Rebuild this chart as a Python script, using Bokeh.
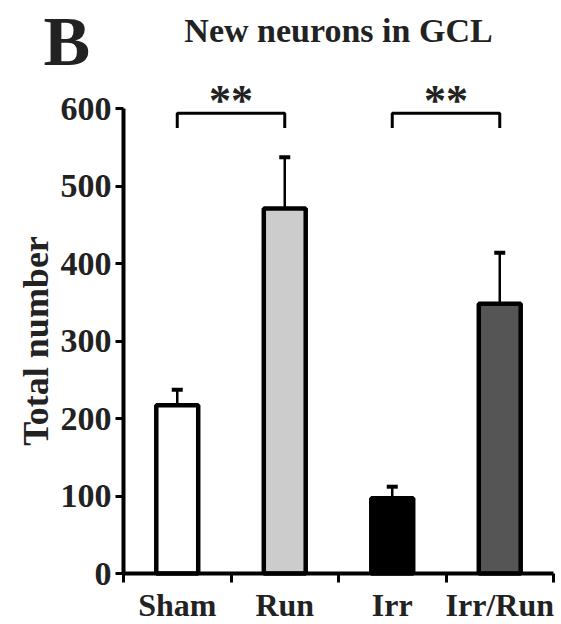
import math
from bokeh.plotting import figure
from bokeh.models import (Range1d, FixedTicker, Whisker, TeeHead,
                          ColumnDataSource)
from bokeh.core.properties import value
from bokeh.embed import file_html
from bokeh.resources import INLINE

# ---- data ----
categories = ["Sham", "Run", "Irr", "Irr/Run"]
means = [217, 471, 97, 348]
sem = [20, 66, 15, 66]
colors = ["#ffffff", "#cccccc", "#000000", "#555555"]
sig_pairs = [(0, 1), (2, 3)]
sig_labels = ["**", "**"]
bracket_top = 594
bracket_leg = 575
y_ticks = [0, 100, 200, 300, 400, 500, 600]
title_text = "New neurons in GCL"
panel_letter = "B"
y_label = "Total number"

FONT = "Liberation Serif"
W, H = 561, 624
AX_LEFT_PX, AX_BOTTOM_PX = 123, 573
PX_PER_X, PX_PER_Y = 107.5, 0.775

x0 = -AX_LEFT_PX / PX_PER_X
x1 = x0 + W / PX_PER_X
y1 = AX_BOTTOM_PX / PX_PER_Y
y0 = y1 - H / PX_PER_Y


def dx(px):
    return x0 + px / PX_PER_X


def dy(py):
    return y1 - py / PX_PER_Y


xc = [i + 0.5 for i in range(len(categories))]
upper = [m + s for m, s in zip(means, sem)]

p = figure(width=W, height=H, output_backend="svg", toolbar_location=None,
           x_range=Range1d(x0, x1), y_range=Range1d(y0, y1),
           min_border=0)
p.outline_line_color = None
p.xgrid.visible = False
p.ygrid.visible = False
p.background_fill_color = "white"
p.border_fill_color = "white"

src = ColumnDataSource(dict(x=xc, top=means, upper=upper, color=colors))
p.vbar(x="x", top="top", width=0.39, bottom=0, source=src,
       fill_color="color", line_color="black", line_width=4.5)

w = Whisker(source=src, base="x", upper="upper", lower="top",
            line_color="black", line_width=2.5,
            upper_head=TeeHead(size=11, line_width=4, line_color="black"),
            lower_head=None, level="overlay")
p.add_layout(w)

# significance brackets
bx, by, sx = [], [], []
for (a, b) in sig_pairs:
    bx.append([xc[a], xc[a], xc[b], xc[b]])
    by.append([bracket_leg, bracket_top, bracket_top, bracket_leg])
    sx.append((xc[a] + xc[b]) / 2)
p.multi_line(bx, by, line_color="black", line_width=3)
p.text(x=sx, y=[bracket_top] * len(sx), text=sig_labels, text_align="center",
       text_baseline="middle", y_offset=-13, text_font=value(FONT),
       text_font_style="bold", text_font_size="44px", text_color="#222222")

# title, panel letter, y label
p.text(x=[len(categories) / 2], y=[dy(30)], text=[title_text],
       text_align="center", text_baseline="middle",
       text_font=value(FONT), text_font_style="bold",
       text_font_size="34px", text_color="#222222")
p.text(x=[dx(43)], y=[dy(41)], text=[panel_letter],
       text_align="left", text_baseline="middle",
       text_font=value(FONT), text_font_style="bold",
       text_font_size="70px", text_color="#222222")
p.text(x=[dx(35)], y=[(y_ticks[0] + y_ticks[-1]) / 2], text=[y_label],
       angle=math.pi / 2, text_align="center", text_baseline="middle",
       text_font=value(FONT), text_font_style="bold",
       text_font_size="36px", text_color="#222222")

# y axis
ya = p.yaxis[0]
ya.fixed_location = 0
ya.bounds = (y_ticks[0], y_ticks[-1])
ya.ticker = FixedTicker(ticks=y_ticks)
ya.major_label_text_font = FONT
ya.major_label_text_font_style = "bold"
ya.major_label_text_font_size = "34px"
ya.major_label_text_color = "#222222"
ya.major_label_standoff = 4
ya.axis_line_width = 4
ya.major_tick_line_width = 3
ya.major_tick_out = 8
ya.major_tick_in = 0
ya.minor_tick_line_color = None

# x axis
xa = p.xaxis[0]
xa.fixed_location = 0
xa.bounds = (0, len(categories))
xa.ticker = FixedTicker(ticks=xc, minor_ticks=list(range(len(categories) + 1)))
xa.major_label_overrides = {x: c for x, c in zip(xc, categories)}
xa.major_tick_line_color = None
xa.major_tick_out = 0
xa.major_tick_in = 0
xa.minor_tick_line_color = "black"
xa.minor_tick_line_width = 3
xa.minor_tick_out = 9
xa.minor_tick_in = 0
xa.axis_line_width = 4
xa.major_label_text_font = FONT
xa.major_label_text_font_style = "bold"
xa.major_label_text_font_size = "32px"
xa.major_label_text_color = "#222222"
xa.major_label_standoff = 4

open("out.html", "w").write(file_html(p, INLINE))
